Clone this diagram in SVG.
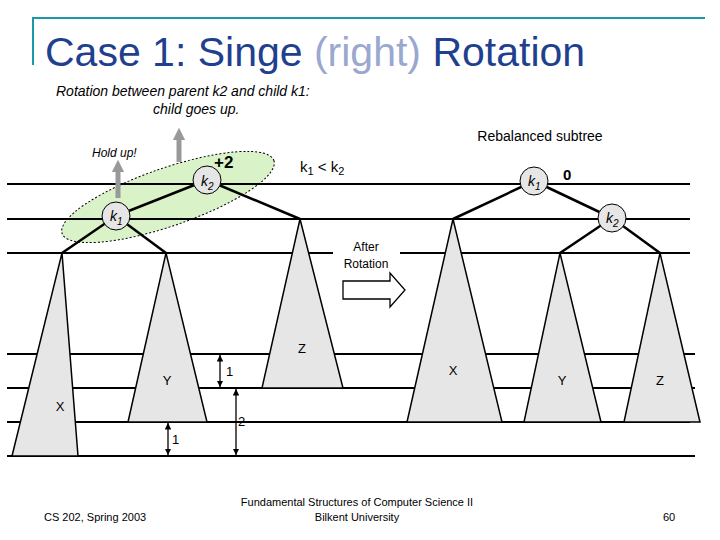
<svg xmlns="http://www.w3.org/2000/svg" width="720" height="540" viewBox="0 0 720 540">
<defs>
<marker id="ah" viewBox="0 0 10 10" refX="10" refY="5" markerWidth="5" markerHeight="5" orient="auto-start-reverse"><path d="M0,0 L10,5 L0,10 z" fill="#000"/></marker>
<marker id="ga" viewBox="0 0 10 10" refX="5" refY="5" markerWidth="2.5" markerHeight="2.5" orient="auto"><path d="M0,0 L10,5 L0,10 z" fill="#999"/></marker>
</defs>
<style>
text{font-family:"Liberation Sans",Arial,sans-serif}
.hl{stroke:#000;stroke-width:2}
.e{stroke:#000;stroke-width:2.5}
.tri{fill:#e6e6e6;stroke:#000;stroke-width:1.5}
.n{fill:#e6e6e6;stroke:#000;stroke-width:1}
.nt{font-size:14px;font-style:italic}
.s{font-size:13px}
.d{stroke:#000;stroke-width:1.3;marker-start:url(#ah);marker-end:url(#ah)}
</style>
<rect width="720" height="540" fill="#fff"/>
<path d="M33,65 V18 H705" fill="none" stroke="#1a9aa8" stroke-width="2"/>
<text x="45" y="66" font-size="41" fill="#1f3f8f">Case 1: Singe <tspan fill="#9aa8d0">(right)</tspan> Rotation</text>
<text x="56" y="96" font-size="14" font-style="italic">Rotation between parent k2 and  child k1:</text>
<text x="153" y="114" font-size="14" font-style="italic">child goes up.</text>
<ellipse cx="168" cy="197" rx="112" ry="29" transform="rotate(-19 168 197)" fill="#d9f2c8" stroke="#000" stroke-dasharray="2,2"/>
<g id="levels">
<line class="hl" x1="7" y1="184" x2="690" y2="184"/>
<line class="hl" x1="7" y1="219" x2="690" y2="219"/>
<line class="hl" x1="7" y1="253" x2="333" y2="253"/>
<line class="hl" x1="400" y1="253" x2="690" y2="253"/>
<line class="hl" x1="7" y1="354" x2="695" y2="354"/>
<line class="hl" x1="7" y1="388" x2="695" y2="388"/>
<line class="hl" x1="7" y1="422" x2="690" y2="422"/>
<line class="hl" x1="7" y1="456" x2="695" y2="456"/>
</g>
<g id="holdarrows" stroke="#999" stroke-width="5">
<line x1="118" y1="198" x2="118" y2="166" marker-end="url(#ga)"/>
<line x1="179" y1="162" x2="179" y2="134" marker-end="url(#ga)"/>
</g>
<text x="92" y="157" font-size="12" font-style="italic">Hold up!</text>
<g id="connectors">
<line class="e" x1="207" y1="180" x2="116" y2="216"/>
<line class="e" x1="207" y1="180" x2="300" y2="219"/>
<line class="e" x1="116" y1="216" x2="62" y2="253"/>
<line class="e" x1="116" y1="216" x2="166" y2="253"/>
<line class="e" x1="534" y1="181" x2="453" y2="219"/>
<line class="e" x1="534" y1="181" x2="612" y2="218"/>
<line class="e" x1="612" y1="218" x2="560" y2="253"/>
<line class="e" x1="612" y1="218" x2="660" y2="253"/>
<line class="d" x1="220" y1="355" x2="220" y2="387"/>
<line class="d" x1="236" y1="389" x2="236" y2="455"/>
<line class="d" x1="168" y1="423" x2="168" y2="455"/>
</g>
<g id="X1"><polygon class="tri" points="62,253 78,456 12,456"/><text class="s" x="60" y="411" text-anchor="middle">X</text></g>
<g id="Y1"><polygon class="tri" points="166,253 207,422 128,422"/><text class="s" x="167" y="385" text-anchor="middle">Y</text></g>
<g id="Z1"><polygon class="tri" points="300,219 343,388 262,388"/><text class="s" x="302" y="353" text-anchor="middle">Z</text></g>
<g id="X2"><polygon class="tri" points="453,219 502,422 407,422"/><text class="s" x="453" y="375" text-anchor="middle">X</text></g>
<g id="Y2"><polygon class="tri" points="560,253 601,422 524,422"/><text class="s" x="562" y="385" text-anchor="middle">Y</text></g>
<g id="Z2"><polygon class="tri" points="660,253 700,422 624,422"/><text class="s" x="660" y="385" text-anchor="middle">Z</text></g>
<text class="s" x="226" y="376">1</text>
<text class="s" x="238" y="426">2</text>
<text class="s" x="172" y="444">1</text>
<g id="k2a"><circle class="n" cx="207" cy="180" r="14"/><text class="nt" x="201" y="186">k<tspan font-size="10" dy="4">2</tspan></text></g>
<g id="k1a"><circle class="n" cx="116" cy="216" r="14"/><text class="nt" x="110" y="221">k<tspan font-size="10" dy="4">1</tspan></text></g>
<g id="k1b"><circle class="n" cx="534" cy="181" r="14"/><text class="nt" x="528" y="186">k<tspan font-size="10" dy="4">1</tspan></text></g>
<g id="k2b"><circle class="n" cx="612" cy="218" r="14"/><text class="nt" x="606" y="223">k<tspan font-size="10" dy="4">2</tspan></text></g>
<text x="214" y="168" font-size="17" font-weight="bold">+2</text>
<text x="563" y="180" font-size="15" font-weight="bold">0</text>
<text x="300" y="172" font-size="15">k<tspan font-size="11" dy="3">1</tspan><tspan dy="-3"> &lt; k</tspan><tspan font-size="11" dy="3">2</tspan></text>
<text x="540" y="141" font-size="14" text-anchor="middle">Rebalanced subtree</text>
<text x="366" y="251" font-size="12" text-anchor="middle">After</text>
<text x="366" y="268" font-size="12" text-anchor="middle">Rotation</text>
<polygon points="343,281 390,281 390,273 405,290 390,307 390,299 343,299" fill="#fff" stroke="#000" stroke-width="1.3"/>
<text x="44" y="521" font-size="11">CS 202, Spring 2003</text>
<text x="357" y="506" font-size="11" text-anchor="middle">Fundamental Structures of Computer Science II</text>
<text x="357" y="521" font-size="11" text-anchor="middle">Bilkent University</text>
<text x="663" y="521" font-size="11">60</text>
</svg>
